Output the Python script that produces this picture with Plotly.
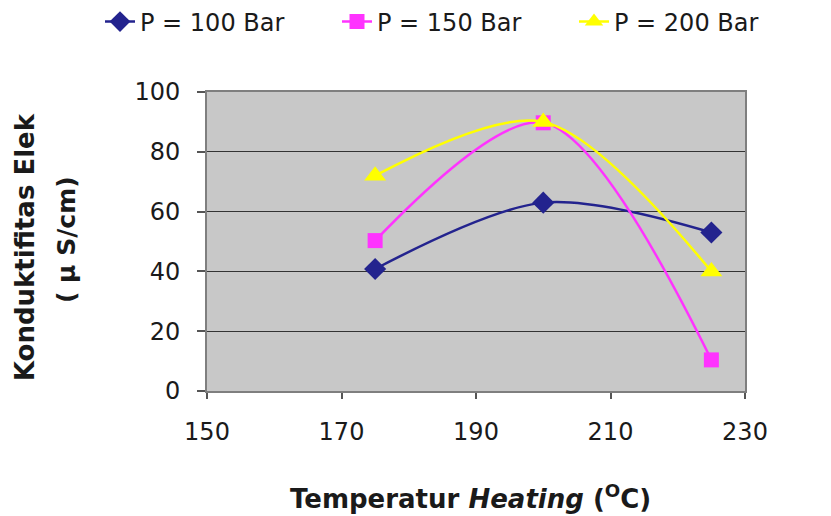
import plotly.graph_objects as go

temps = [175, 200, 225]
p100 = [40.8, 63, 53]
p150 = [50.3, 89.7, 10.4]
p200 = [72, 90, 40]
series_names = ["P = 100 Bar", "P = 150 Bar", "P = 200 Bar"]

FONT = "DejaVu Sans"

fig = go.Figure()
fig.add_trace(go.Scatter(x=temps, y=p100, name=series_names[0], mode="lines+markers",
                         line=dict(color="#23238E", width=2.5, shape="spline", smoothing=0.9),
                         marker=dict(symbol="diamond", size=17, color="#23238E")))
fig.add_trace(go.Scatter(x=temps, y=p150, name=series_names[1], mode="lines+markers",
                         line=dict(color="#FF33FF", width=2.5, shape="spline", smoothing=0.9),
                         marker=dict(symbol="square", size=15, color="#FF33FF")))
fig.add_trace(go.Scatter(x=temps, y=p200, name=series_names[2], mode="lines+markers",
                         line=dict(color="#FFFF00", width=2.5, shape="spline", smoothing=0.9),
                         marker=dict(symbol="triangle-up", size=19, color="#FFFF00")))

fig.update_layout(
    width=831, height=516,
    margin=dict(l=207, r=86, t=92, b=125, autoexpand=False),
    paper_bgcolor="white", plot_bgcolor="#C8C8C8",
    font=dict(family=FONT, size=24, color="#1a1a1a"),
    showlegend=True,
    legend=dict(orientation="h", xref="paper", yref="paper",
                x=(100 - 207) / 538, y=(391 - 22) / 299, xanchor="left", yanchor="middle",
                font=dict(family=FONT, size=24, color="#1a1a1a"),
                entrywidth=192, entrywidthmode="pixels",
                bgcolor="rgba(0,0,0,0)", itemsizing="trace"),
    xaxis=dict(range=[150, 230], dtick=20, tick0=150, showgrid=False, zeroline=False,
               showline=True, linecolor="#7f7f7f", linewidth=2, mirror=True,
               ticks="outside", ticklen=6, tickcolor="#555", tickwidth=1.5,
               ticklabelstandoff=12, tickfont=dict(size=24)),
    yaxis=dict(range=[0, 100], dtick=20, tick0=0, showgrid=True, gridcolor="#333333",
               gridwidth=1, zeroline=False,
               showline=True, linecolor="#7f7f7f", linewidth=2, mirror=True,
               ticks="outside", ticklen=8, tickcolor="#555", tickwidth=1.5,
               ticklabelstandoff=12, tickfont=dict(size=24)),
    annotations=[
        dict(text="Konduktifitas Elek", xref="paper", yref="paper", x=-0.337, y=0.48,
             showarrow=False, textangle=-90, xanchor="center", yanchor="middle",
             font=dict(family=FONT, size=26, color="#1a1a1a", weight="bold")),
        dict(text="( µ S/cm)", xref="paper", yref="paper", x=-0.262, y=0.505,
             showarrow=False, textangle=-90, xanchor="center", yanchor="middle",
             font=dict(family=FONT, size=25, color="#1a1a1a", weight="bold")),
        dict(text="Temperatur <i>Heating</i> (<sup>O</sup>C)", xref="paper", yref="paper",
             x=0.49, y=-0.355, showarrow=False, xanchor="center", yanchor="middle",
             font=dict(family=FONT, size=26, color="#1a1a1a", weight="bold")),
    ],
)

fig.write_html("out.html")
